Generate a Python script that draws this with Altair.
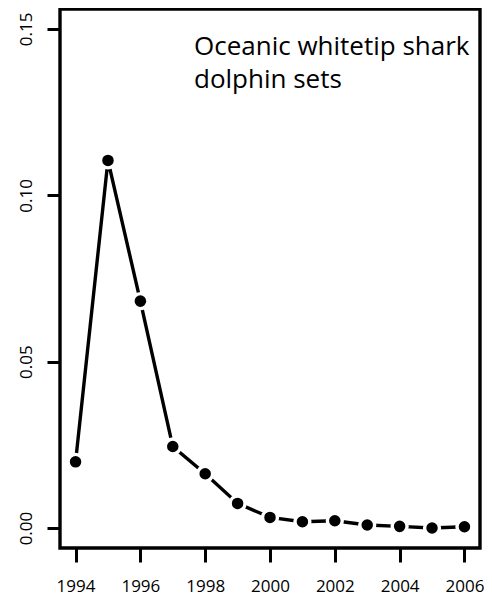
import altair as alt
import pandas as pd

years = [1994, 1995, 1996, 1997, 1998, 1999, 2000, 2001, 2002, 2003, 2004, 2005, 2006]
values = [0.0199, 0.1105, 0.0682, 0.0245, 0.0163, 0.0074, 0.0032, 0.0019, 0.0022, 0.0009, 0.0005, 0.0000, 0.0004]
x_ticks = [1994, 1996, 1998, 2000, 2002, 2004, 2006]
y_ticks = [0.00, 0.05, 0.10, 0.15]
label_lines = ["Oceanic whitetip shark", "dolphin sets"]

df = pd.DataFrame({"year": years, "value": values})

FONT = "Open Sans"

x = alt.X("year:Q",
          scale=alt.Scale(domain=[1993.52, 2006.48], nice=False, zero=False),
          axis=alt.Axis(values=x_ticks, format="d", title=None, grid=False, domain=False,
                        tickSize=14, tickWidth=3, tickColor="black",
                        labelFontSize=17, labelFont=FONT, labelColor="black",
                        labelPadding=16, labelFlush=False))
y = alt.Y("value:Q",
          scale=alt.Scale(domain=[-0.006, 0.156], nice=False, zero=False),
          axis=alt.Axis(values=y_ticks, format=".2f", title=None, grid=False, domain=False,
                        tickSize=13, tickWidth=3, tickColor="black",
                        labelFontSize=17, labelFont=FONT, labelColor="black",
                        labelAngle=-90, labelAlign="center", labelBaseline="bottom",
                        labelPadding=12, labelFlush=False))

line = alt.Chart(df).mark_line(color="black", strokeWidth=3.4).encode(x=x, y=y)
pts = alt.Chart(df).mark_circle(fill="black", fillOpacity=1, stroke="white",
                                strokeWidth=3.4, opacity=1, size=222).encode(x=x, y=y)

txt = alt.Chart(pd.DataFrame({"t": [label_lines]})).mark_text(
    align="left", baseline="alphabetic", font=FONT, fontSize=26, color="black",
    lineHeight=33
).encode(x=alt.value(134), y=alt.value(46), text="t")

chart = alt.layer(line, pts, txt).properties(
    width=420, height=539,
    autosize=alt.AutoSizeParams(type="none"),
    padding={"left": 52, "top": 1, "right": 4, "bottom": 47},
    background="white",
).configure_view(stroke="black", strokeWidth=3.4)

chart.save("out.html", embed_options={"renderer": "svg", "actions": False})
